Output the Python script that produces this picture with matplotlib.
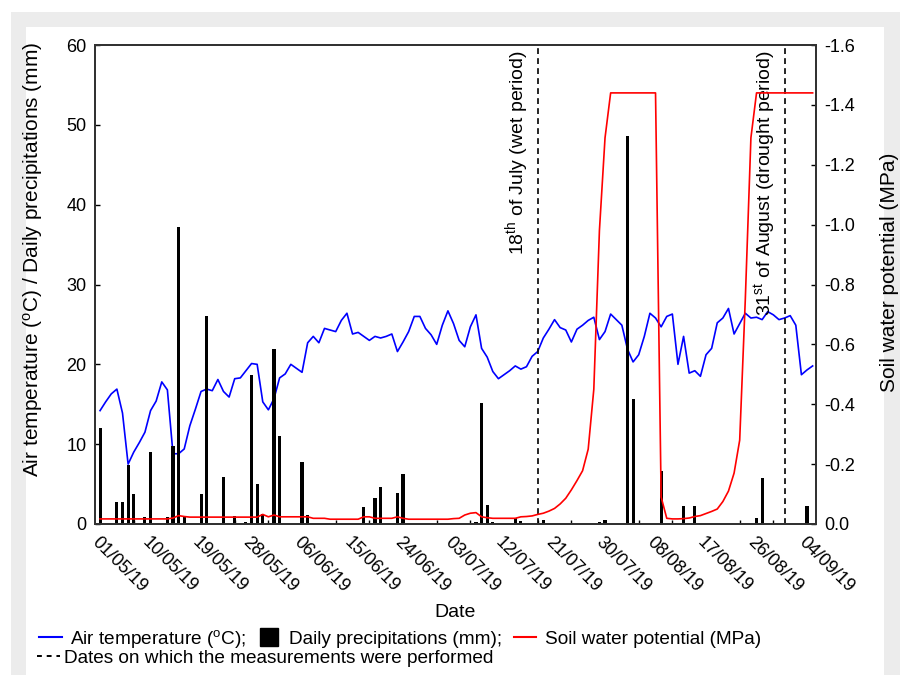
import numpy as np
import matplotlib
matplotlib.use("Agg")
import matplotlib.pyplot as plt
import matplotlib.dates as mdates
from matplotlib.lines import Line2D
from matplotlib.patches import Rectangle

plt.rcParams["font.family"] = ["Liberation Sans", "DejaVu Sans"]
plt.rcParams["mathtext.fontset"] = "custom"
plt.rcParams["mathtext.rm"] = "Liberation Sans"
plt.rcParams["mathtext.it"] = "Liberation Sans:italic"
plt.rcParams["axes.unicode_minus"] = False

# Daily series, 01/05/19 .. 05/09/19
dates = np.arange("2019-05-01", "2019-09-06", dtype="datetime64[D]")

air_temp = [
    14.2, 15.3, 16.3, 16.9, 13.9, 7.5, 9.0, 10.2, 11.5, 14.2,
    15.4, 17.8, 16.8, 8.8, 8.8, 9.4, 12.3, 14.4, 16.6, 16.9,
    16.7, 18.1, 16.6, 15.9, 18.2, 18.3, 19.2, 20.1, 20.0, 15.3,
    14.3, 15.7, 18.3, 18.8, 20.0, 19.5, 19.0, 22.7, 23.5, 22.7,
    24.5, 24.3, 24.1, 25.5, 26.4, 23.8, 24.0, 23.5, 23.0, 23.5,
    23.3, 23.5, 23.8, 21.6, 22.8, 24.1, 26.0, 26.0, 24.5, 23.7,
    22.5, 24.9, 26.7, 25.1, 23.0, 22.2, 24.7, 26.2, 22.0, 20.9,
    19.1, 18.2, 18.7, 19.2, 19.8, 19.4, 19.7, 21.0, 21.6, 23.3,
    24.4, 25.6, 24.6, 24.3, 22.8, 24.4, 24.9, 25.5, 25.9, 23.1,
    24.1, 26.3, 25.6, 24.9, 21.9, 20.3, 21.2, 23.5, 26.4, 25.8,
    24.7, 26.0, 26.3, 20.0, 23.5, 18.9, 19.2, 18.5, 21.2, 22.0,
    25.2, 25.8, 27.0, 23.8, 25.1, 26.4, 25.8, 25.9, 25.6, 26.6,
    26.2, 25.6, 25.8, 26.1, 24.9, 18.7, 19.3, 19.8,
]

soil_potential = [
    -0.017, -0.017, -0.017, -0.017, -0.017, -0.017, -0.017, -0.017, -0.017, -0.017,
    -0.017, -0.017, -0.017, -0.020, -0.028, -0.025, -0.023, -0.023, -0.023, -0.023,
    -0.023, -0.023, -0.023, -0.023, -0.023, -0.023, -0.023, -0.023, -0.023, -0.032,
    -0.024, -0.030, -0.024, -0.024, -0.024, -0.024, -0.024, -0.024, -0.019, -0.019,
    -0.019, -0.016, -0.016, -0.016, -0.016, -0.016, -0.016, -0.024, -0.024, -0.019,
    -0.019, -0.019, -0.019, -0.024, -0.019, -0.016, -0.016, -0.016, -0.016, -0.016,
    -0.016, -0.016, -0.016, -0.018, -0.019, -0.030, -0.036, -0.038, -0.024, -0.021,
    -0.019, -0.019, -0.019, -0.019, -0.019, -0.024, -0.025, -0.027, -0.032, -0.036,
    -0.043, -0.052, -0.067, -0.086, -0.114, -0.145, -0.178, -0.250, -0.450, -0.980,
    -1.290, -1.440, -1.440, -1.440, -1.440, -1.440, -1.440, -1.440, -1.440, -1.440,
    -0.090, -0.019, -0.017, -0.017, -0.018, -0.020, -0.025, -0.028, -0.035, -0.042,
    -0.050, -0.075, -0.110, -0.170, -0.280, -0.750, -1.290, -1.440, -1.440, -1.440,
    -1.440, -1.440, -1.440, -1.440, -1.440, -1.440, -1.440, -1.440,
]

rain_dates = np.array([
    "2019-05-01", "2019-05-04", "2019-05-05", "2019-05-06", "2019-05-07",
    "2019-05-09", "2019-05-10", "2019-05-13", "2019-05-14", "2019-05-15",
    "2019-05-16", "2019-05-19", "2019-05-20", "2019-05-23", "2019-05-25",
    "2019-05-27", "2019-05-28", "2019-05-29", "2019-05-30", "2019-06-01",
    "2019-06-02", "2019-06-06", "2019-06-07", "2019-06-17", "2019-06-19",
    "2019-06-20", "2019-06-23", "2019-06-24", "2019-07-07", "2019-07-08",
    "2019-07-09", "2019-07-10", "2019-07-14", "2019-07-15", "2019-07-19",
    "2019-07-29", "2019-07-30", "2019-08-03", "2019-08-04", "2019-08-09",
    "2019-08-13", "2019-08-15", "2019-08-26", "2019-08-27", "2019-09-04",
], dtype="datetime64[D]")
rain_mm = [
    12.0, 2.7, 2.7, 7.4, 3.8,
    0.9, 9.0, 0.9, 9.8, 37.2,
    0.9, 3.7, 26.1, 5.9, 1.0,
    0.3, 18.7, 5.0, 1.2, 21.9,
    11.0, 7.8, 1.1, 2.1, 3.2,
    4.6, 3.9, 6.3, 0.3, 15.2,
    2.4, 0.3, 0.7, 0.4, 0.5,
    0.3, 0.5, 48.6, 15.6, 6.6,
    2.2, 2.2, 0.7, 5.8, 2.2,
]

measure_dates = np.array(["2019-07-18", "2019-08-31"], dtype="datetime64[D]")
measure_labels = ["18$^{\\rm th}$ of July (wet period)", "31$^{\\rm st}$ of August (drought period)"]

# Plot.
fig = plt.figure(figsize=(9, 6.75), dpi=100, facecolor="white")
fig.patches.append(Rectangle((11 / 900, 0), 889 / 900, 663 / 675, transform=fig.transFigure,
                             facecolor="#ececec", edgecolor="none", zorder=-10))
fig.patches.append(Rectangle((26 / 900, 0), 858 / 900, 648 / 675, transform=fig.transFigure,
                             facecolor="white", edgecolor="none", zorder=-9))

ax = fig.add_axes([95 / 900, 151 / 675, 721 / 900, 479 / 675])
ax.patch.set_alpha(0)
ax2 = ax.twinx()

ax.plot(dates, air_temp, color="#0000ff", lw=1.2, zorder=2)
ax.bar(rain_dates, rain_mm, width=0.55, color="black", zorder=3)
ax2.plot(dates, soil_potential, color="#ff0000", lw=1.2, zorder=2)

for d, lab in zip(measure_dates, measure_labels):
    ax.axvline(d, color="black", ls=(0, (3.5, 2.5)), lw=1.2, zorder=4)
    ax.text(mdates.date2num(d) - 1.2, 59.3, lab, rotation=90, ha="right", va="top",
            fontsize=14, zorder=5)

x0 = mdates.date2num(dates[0])
ax.set_xlim(x0 - 0.9, x0 + 127.6)
ax.set_ylim(0, 60)
ax2.set_ylim(0, -1.6)

ax.set_xticks(dates[::9])
ax.xaxis.set_major_formatter(mdates.DateFormatter("%d/%m/%y"))
ax.set_xticks(dates[::6], minor=True)
ax.set_yticks(np.arange(0, 61, 10))
ax2.set_yticks(np.round(np.arange(0, -1.61, -0.2), 1))
ax2.yaxis.set_major_formatter(plt.FuncFormatter(lambda v, p: f"{v:.1f}" if abs(v) > 1e-9 else "0.0"))

ax.tick_params(axis="x", which="major", length=0, pad=7, labelsize=13)
ax.tick_params(axis="x", which="minor", length=3, direction="in", width=1)
ax.tick_params(axis="y", length=3.5, direction="in", width=1, labelsize=13, pad=6)
ax2.tick_params(axis="y", length=3.5, direction="in", width=1, labelsize=13, pad=6)
for lab in ax.get_xticklabels():
    lab.set_rotation(-45)
    lab.set_ha("left")
    lab.set_va("top")
    lab.set_rotation_mode("anchor")

for a in (ax, ax2):
    for s in a.spines.values():
        s.set_color("#333333")
        s.set_linewidth(1.4)

ax.set_xlabel("Date", fontsize=14, labelpad=6)
ax.set_ylabel("Air temperature ($^{\\rm o}$C) / Daily precipitations (mm)", fontsize=15)
ax.yaxis.set_label_coords(-0.069, 0.553)
ax2.set_ylabel("Soil water potential (MPa)", fontsize=15)
ax2.yaxis.set_label_coords(1.089, 0.526)

handles = [
    Line2D([0], [0], color="#0000ff", lw=1.5),
    Line2D([0], [0], color="black", marker="s", ls="none", markersize=13),
    Line2D([0], [0], color="#ff0000", lw=1.5),
]
labels = ["Air temperature ($^{\\rm o}$C);", "Daily precipitations (mm);", "Soil water potential (MPa)"]
fig.legend(handles, labels, loc="center left", bbox_to_anchor=(0.043, 0.054), ncol=3,
           frameon=False, fontsize=13.7, handlelength=1.2, handletextpad=0.45,
           columnspacing=0.6, borderpad=0, borderaxespad=0)
fig.legend([Line2D([0], [0], color="black", lw=1.4, ls=(0, (2.5, 2.5)))],
           ["Dates on which the measurements were performed"],
           loc="center left", bbox_to_anchor=(0.041, 0.025), frameon=False, fontsize=13.7,
           handlelength=1.2, handletextpad=0.25, borderpad=0, borderaxespad=0)

fig.savefig("out.png", dpi=100)
